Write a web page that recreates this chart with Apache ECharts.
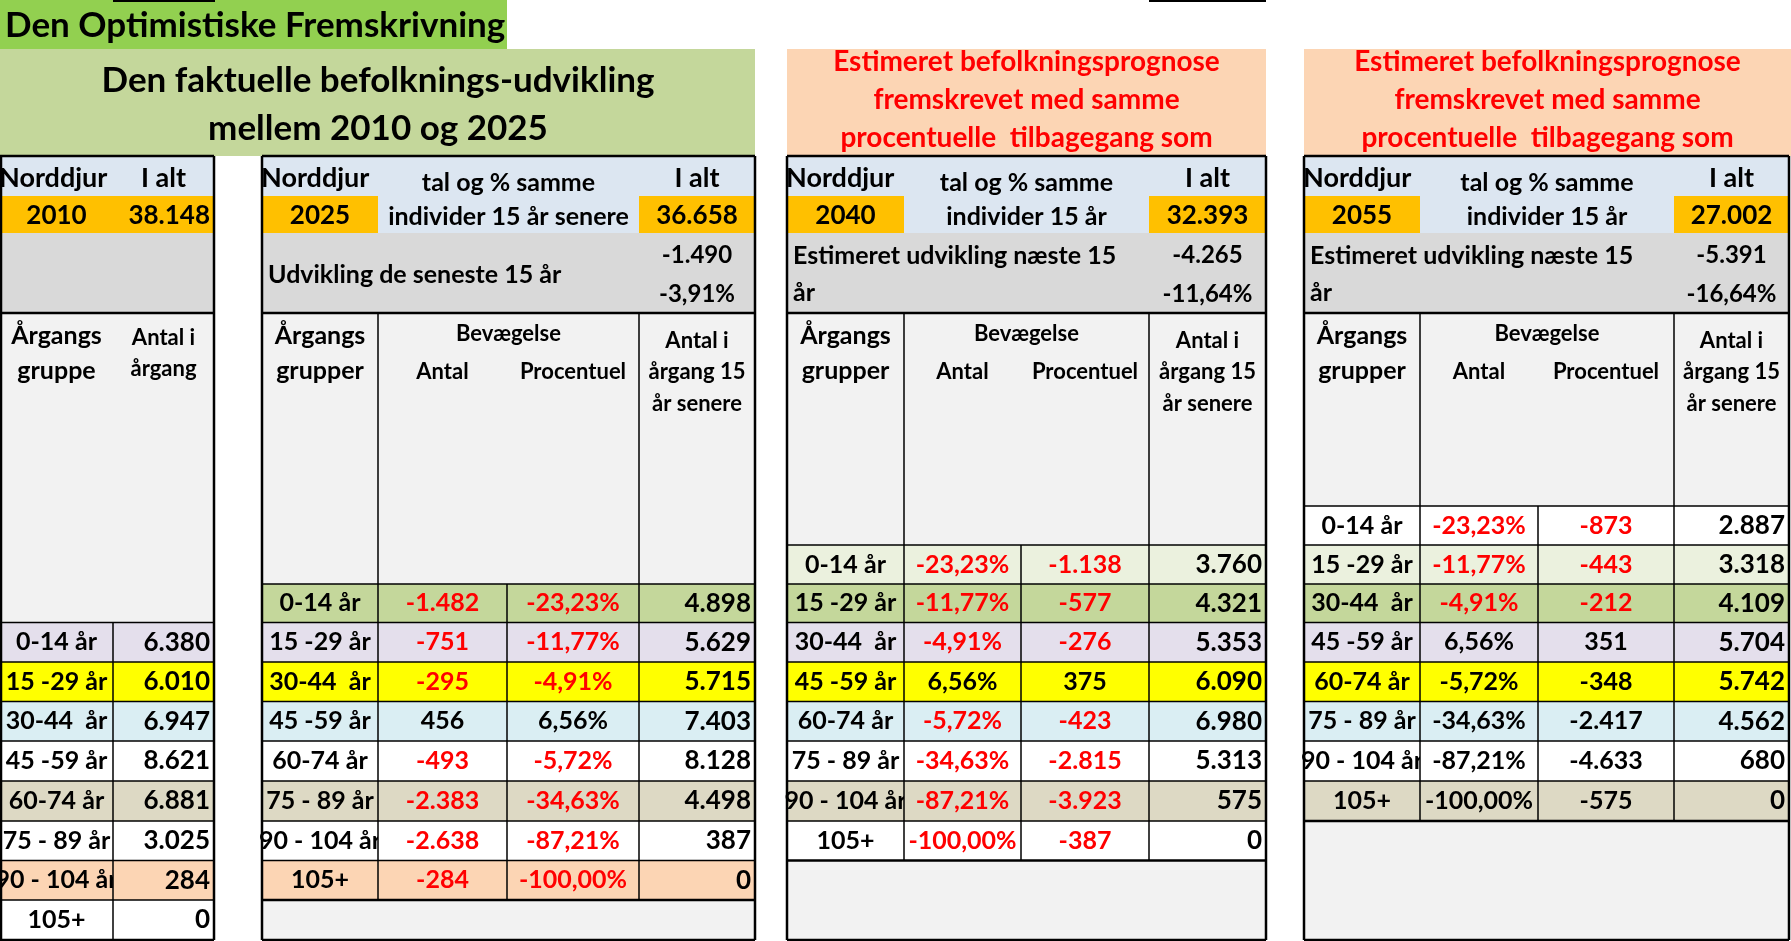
<!DOCTYPE html>
<html>
<head>
<meta charset="utf-8">
<title>Den Optimistiske Fremskrivning</title>
<script src="https://cdn.jsdelivr.net/npm/echarts@6/dist/echarts.min.js"></script>
<style>
  html, body { margin: 0; padding: 0; background: #fff; }
  #main { width: 1791px; height: 941px; }
</style>
</head>
<body>
<div id="main"></div>
<script>
// ---- data (Norddjurs) ----
const ageGroups = ['0-14 år', '15 -29 år', '30-44  år', '45 -59 år', '60-74 år', '75 - 89 år', '90 - 104 år', '105+'];
const years = [2010, 2025, 2040, 2055];
const totals = [38148, 36658, 32393, 27002];
const totalChange = [-1490, -4265, -5391];
const totalChangePct = [-3.91, -11.64, -16.64];

const pop2010 = [6380, 6010, 6947, 8621, 6881, 3025, 284, 0];

const change2025 = [-1482, -751, -295, 456, -493, -2383, -2638, -284];
const pct2025 = [-23.23, -11.77, -4.91, 6.56, -5.72, -34.63, -87.21, -100.00];
const pop2025 = [4898, 5629, 5715, 7403, 8128, 4498, 387, 0];

const pct2040 = [-23.23, -11.77, -4.91, 6.56, -5.72, -34.63, -87.21, -100.00];
const change2040 = [-1138, -577, -276, 375, -423, -2815, -3923, -387];
const pop2040 = [3760, 4321, 5353, 6090, 6980, 5313, 575, 0];

const pct2055 = [-23.23, -11.77, -4.91, 6.56, -5.72, -34.63, -87.21, -100.00];
const change2055 = [-873, -443, -212, 351, -348, -2417, -4633, -575];
const pop2055 = [2887, 3318, 4109, 5704, 5742, 4562, 680, 0];

// ---- layout / style ----
const FONT = 'Lato, "Open Sans", sans-serif';
const RED = '#FF0000';
const cohortFill = ['#FFFFFF', '#EBF1DE', '#C4D79B', '#E4DFEC', '#FFFF00', '#DAEEF3',
                    '#FFFFFF', '#DDD9C4', '#FFFFFF', '#FCD5B4', '#FFFFFF'];
const rowLines = [506, 545, 584, 622.5, 662, 701.5, 741, 781, 821, 860.5, 900, 940];
const BOTTOM = 940;

const cells = [];
const lines = [];

function fmtNum(n) {
  const s = Math.abs(n).toString().replace(/\B(?=(\d{3})+(?!\d))/g, '.');
  return (n < 0 ? '-' : '') + s;
}
function fmtPct(p) {
  return (p < 0 ? '-' : '') + Math.abs(p).toFixed(2).replace('.', ',') + '%';
}
function cell(x0, x1, y0, y1, fill, texts) {
  cells.push({ x0, x1, y0, y1, fill, texts: texts || [] });
}
function T(t, x, y, size, o) {
  return Object.assign({ t, x, y, size }, o || {});
}
function line(x0, y0, x1, y1, w) {
  lines.push([x0, y0, x1, y1, w || 1.5]);
}

// title + headers
cell(0, 507, 0, 49, '#92D050', [T('Den Optimistiske Fremskrivning', 5, 26, 35, { align: 'left' })]);
cell(113, 215, 0, 2, '#000');
cell(1149, 1266, 0, 2, '#000');
cell(0, 755, 49, 156, '#C4D79B', [
  T('Den faktuelle befolknings-udvikling', 378, 81, 35),
  T('mellem 2010 og 2025', 378, 129, 35)
]);
[[787, 1266], [1304, 1791]].forEach(function (r) {
  const cx = (r[0] + r[1]) / 2;
  cell(r[0], r[1], 49, 156, '#FCD5B4', [
    T('Estimeret befolkningsprognose', cx, 62, 28, { color: RED }),
    T('fremskrevet med samme', cx, 100, 28, { color: RED }),
    T('procentuelle  tilbagegang som', cx, 138, 28, { color: RED })
  ]);
});

// table 2010
(function () {
  const c = [0, 113, 214];
  const m0 = (c[0] + c[1]) / 2, m1 = (c[1] + c[2]) / 2;
  cell(c[0], c[2], 156, 196, '#DCE6F1', [
    T('Norddjurs', c[0] - 1, 178, 27, { align: 'left', width: c[1] - c[0] + 1 }),
    T('I alt', m1, 178, 27)
  ]);
  cell(c[0], c[2], 196, 233, '#FFC000', [
    T(String(years[0]), m0, 216, 26),
    T(fmtNum(totals[0]), c[2] - 4, 216, 26, { align: 'right' })
  ]);
  cell(c[0], c[2], 233, 313, '#D9D9D9');
  const first = 3;
  cell(c[0], c[2], 313, rowLines[first], '#F2F2F2', [
    T('Årgangs', m0, 336, 25), T('gruppe', m0, 371, 25),
    T('Antal i', m1, 338, 22), T('årgang', m1, 369, 22)
  ]);
  ageGroups.forEach(function (a, i) {
    const y0 = rowLines[first + i], y1 = rowLines[first + i + 1], ym = (y0 + y1) / 2;
    cell(c[0], c[1], y0, y1, cohortFill[first + i], [T(a, m0, ym, 25)]);
    cell(c[1], c[2], y0, y1, cohortFill[first + i], [T(fmtNum(pop2010[i]), c[2] - 4, ym, 26, { align: 'right' })]);
  });
  // borders
  line(c[0], 156, c[2], 156, 2.5);
  line(c[0], 313, c[2], 313, 2.5);
  line(c[0], BOTTOM, c[2], BOTTOM, 2.5);
  line(c[0] + 1, 156, c[0] + 1, BOTTOM, 2.5);
  line(c[2], 156, c[2], BOTTOM, 2.5);
  for (let k = first; k < rowLines.length - 1; k++) line(c[0], rowLines[k], c[2], rowLines[k]);
  line(c[1], rowLines[first], c[1], BOTTOM);
})();

// forecast tables 2025 / 2040 / 2055
function forecastTable(cfg) {
  const c = cfg.cols, first = cfg.first;
  const m = [0, 1, 2, 3].map(function (k) { return (c[k] + c[k + 1]) / 2; });
  const mid12 = (c[1] + c[3]) / 2;
  cell(c[0], c[4], 156, 196, '#DCE6F1', [
    T('Norddjurs', c[0] - 1, 178, 27, { align: 'left', width: c[1] - c[0] + 1 }),
    T('tal og % samme', mid12, 183, 25),
    T('I alt', m[3], 178, 27)
  ]);
  cell(c[0], c[1], 196, 233, '#FFC000', [T(String(years[cfg.y]), m[0], 216, 26)]);
  cell(c[1], c[3], 196, 233, '#DCE6F1', [T(cfg.indiv, mid12, 217, 25)]);
  cell(c[3], c[4], 196, 233, '#FFC000', [T(fmtNum(totals[cfg.y]), m[3], 216, 26)]);
  const gray = cfg.gapText.map(function (g, k) {
    return T(g, c[0] + 6, cfg.gapText.length > 1 ? 256 + 37 * k : 275, 25, { align: 'left' });
  });
  gray.push(T(fmtNum(totalChange[cfg.y - 1]), m[3], 255, 24));
  gray.push(T(fmtPct(totalChangePct[cfg.y - 1]), m[3], 294, 24));
  cell(c[0], c[4], 233, 313, '#D9D9D9', gray);
  cell(c[0], c[4], 313, rowLines[first], '#F2F2F2', [
    T('Årgangs', m[0], 336, 25), T('grupper', m[0], 371, 25),
    T('Bevægelse', mid12, 334, 22),
    T('Antal', m[1], 372, 22), T('Procentuel', m[2], 372, 22),
    T('Antal i', m[3], 341, 22), T('årgang 15', m[3], 372, 22), T('år senere', m[3], 404, 22)
  ]);
  ageGroups.forEach(function (a, i) {
    const y0 = rowLines[first + i], y1 = rowLines[first + i + 1], ym = (y0 + y1) / 2;
    const f = cohortFill[first + i];
    const v1 = cfg.col1[i], v2 = cfg.col2[i];
    cell(c[0], c[1], y0, y1, f, [T(a, m[0], ym, 25)]);
    cell(c[1], c[2], y0, y1, f, [T(cfg.fmt1(v1), m[1], ym, 25, { color: cfg.red(i, v1) ? RED : '#000' })]);
    cell(c[2], c[3], y0, y1, f, [T(cfg.fmt2(v2), m[2], ym, 25, { color: cfg.red(i, v2) ? RED : '#000' })]);
    cell(c[3], c[4], y0, y1, f, [T(fmtNum(cfg.pop[i]), c[4] - 4, ym, 26, { align: 'right' })]);
  });
  const end = rowLines[first + ageGroups.length];
  cell(c[0], c[4], end, BOTTOM, '#F2F2F2');
  // borders
  line(c[0], 156, c[4], 156, 2.5);
  line(c[0], 313, c[4], 313, 2.5);
  line(c[0], BOTTOM, c[4], BOTTOM, 2.5);
  line(c[0], 156, c[0], BOTTOM, 2.5);
  line(c[4], 156, c[4], BOTTOM, 2.5);
  for (let k = first; k < first + ageGroups.length; k++) line(c[0], rowLines[k], c[4], rowLines[k]);
  line(c[0], end, c[4], end, 2.5);
  line(c[1], 313, c[1], end);
  line(c[3], 313, c[3], end);
  line(c[2], rowLines[first], c[2], end);
}

forecastTable({
  cols: [262, 378, 507, 639, 755], first: 2, y: 1,
  indiv: 'individer 15 år senere', gapText: ['Udvikling de seneste 15 år'],
  col1: change2025, fmt1: fmtNum, col2: pct2025, fmt2: fmtPct, pop: pop2025,
  red: function (i, v) { return v < 0; }
});
forecastTable({
  cols: [787, 904, 1021, 1149, 1266], first: 1, y: 2,
  indiv: 'individer 15 år', gapText: ['Estimeret udvikling næste 15', 'år'],
  col1: pct2040, fmt1: fmtPct, col2: change2040, fmt2: fmtNum, pop: pop2040,
  red: function (i, v) { return v < 0; }
});
forecastTable({
  cols: [1304, 1420, 1538, 1674, 1789], first: 0, y: 3,
  indiv: 'individer 15 år', gapText: ['Estimeret udvikling næste 15', 'år'],
  col1: pct2055, fmt1: fmtPct, col2: change2055, fmt2: fmtNum, pop: pop2055,
  red: function (i, v) { return v < 0 && i < 3; }
});

// ---- chart ----
function renderCell(params, api) {
  const c = cells[api.value(0)];
  const p0 = api.coord([c.x0, c.y0]);
  const p1 = api.coord([c.x1, c.y1]);
  const children = [];
  if (c.fill) {
    children.push({
      type: 'rect',
      shape: { x: p0[0], y: p0[1], width: p1[0] - p0[0], height: p1[1] - p0[1] },
      style: { fill: c.fill }
    });
  }
  c.texts.forEach(function (t) {
    const p = api.coord([t.x, t.y]);
    const st = {
      text: t.t, x: p[0], y: p[1],
      fill: t.color || '#000',
      fontFamily: FONT, fontSize: t.size, fontWeight: t.weight || 'bold',
      align: t.align || 'center', verticalAlign: 'middle'
    };
    if (t.width) {
      st.width = t.width;
      st.overflow = 'truncate';
      st.ellipsis = '';
    }
    children.push({ type: 'text', style: st });
  });
  return { type: 'group', children: children };
}

function renderLine(params, api) {
  const l = lines[api.value(0)];
  const a = api.coord([l[0], l[1]]);
  const b = api.coord([l[2], l[3]]);
  return {
    type: 'line',
    shape: { x1: a[0], y1: a[1], x2: b[0], y2: b[1] },
    style: { stroke: '#000', lineWidth: l[4] }
  };
}

const chart = echarts.init(document.getElementById('main'));
chart.setOption({
  animation: false,
  grid: { left: 0, right: 0, top: 0, bottom: 0 },
  xAxis: { type: 'value', min: 0, max: 1791, show: false },
  yAxis: { type: 'value', min: 0, max: 941, inverse: true, show: false },
  series: [
    {
      type: 'custom', renderItem: renderCell, silent: true, clip: false,
      data: cells.map(function (c, i) { return [i, 0]; })
    },
    {
      type: 'custom', renderItem: renderLine, silent: true, clip: false,
      data: lines.map(function (l, i) { return [i, 0]; })
    }
  ]
});
</script>
</body>
</html>
